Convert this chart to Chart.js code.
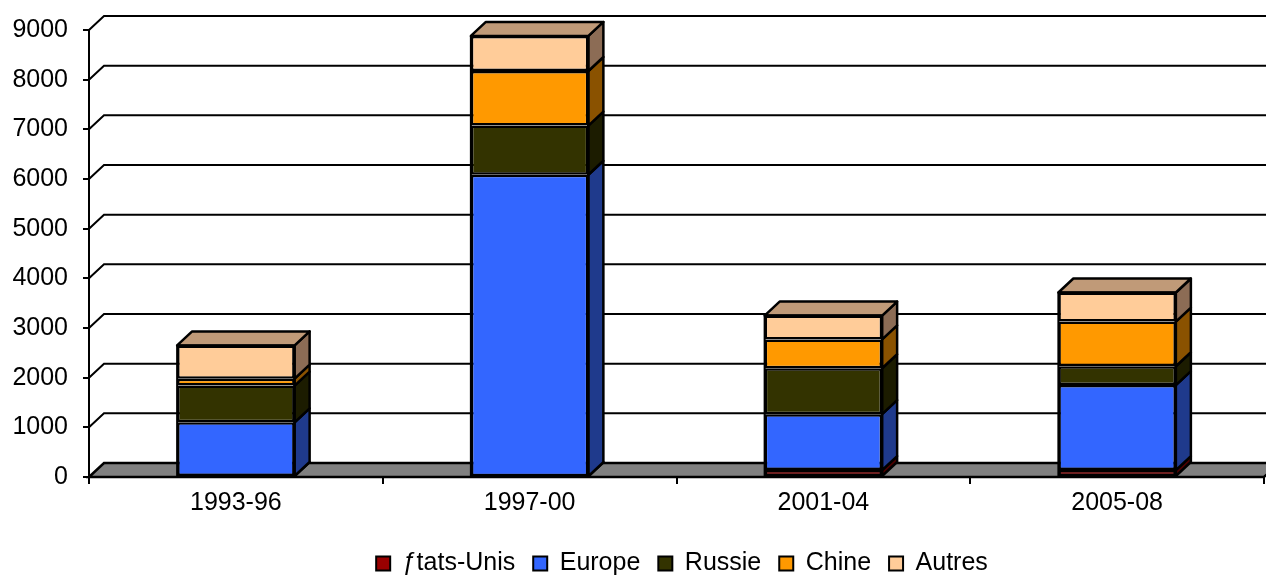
<!DOCTYPE html>
<html>
<head>
<meta charset="utf-8">
<script src="https://cdn.jsdelivr.net/npm/chart.js@4"></script>
<style>
  html, body { margin: 0; padding: 0; background: #fff; }
  #wrap { width: 1266px; height: 575px; }
</style>
</head>
<body>
<div id="wrap"><canvas id="chart"></canvas></div>
<script>
const categories = ['1993-96', '1997-00', '2001-04', '2005-08'];
const seriesNames = ['ƒtats-Unis', 'Europe', 'Russie', 'Chine', 'Autres'];
const etatsUnis = [20, 15, 140, 140];
const europe = [1080, 6070, 1125, 1710];
const russie = [740, 990, 925, 380];
const chine = [140, 1100, 580, 900];
const autres = [670, 705, 480, 585];
const yTicks = [0, 1000, 2000, 3000, 4000, 5000, 6000, 7000, 8000, 9000];

const frontColors = ['#990000', '#3366FF', '#333300', '#FF9900', '#FFCC99'];
const sideColors = ['#4d0000', '#1f3a8c', '#1c1c00', '#8a5200', '#8c6c55'];
const topColors = ['#b34d4d', '#6688ff', '#666633', '#c08030', '#c09a78'];

// 3D depth offset
const DX = 15, DY = -14;
const FONT = 'Liberation Sans, Arial, sans-serif';

const threeD = {
  id: 'threeD',
  afterLayout(chart) {
    // nudge the legend a bit right and down, like the original
    const lg = chart.legend;
    lg.left += 50; lg.right += 50;
    lg.top += 11; lg.bottom += 11;
  },
  beforeDatasetsDraw(chart) {
    const { ctx, chartArea: a, scales: { y } } = chart;
    ctx.save();
    ctx.strokeStyle = '#000';
    ctx.lineWidth = 2;
    yTicks.forEach(v => {
      if (v === 0) return;
      const py = y.getPixelForValue(v);
      ctx.beginPath();
      ctx.moveTo(a.left, py);
      ctx.lineTo(a.left + DX, py + DY);
      ctx.lineTo(chart.width, py + DY);
      ctx.stroke();
    });
    const y0 = y.getPixelForValue(0);
    ctx.fillStyle = '#808080';
    ctx.lineWidth = 2.5;
    ctx.beginPath();
    ctx.moveTo(a.left, y0);
    ctx.lineTo(a.left + DX, y0 + DY);
    ctx.lineTo(a.right + DX, y0 + DY);
    ctx.lineTo(a.right, y0);
    ctx.closePath();
    ctx.fill();
    ctx.stroke();
    ctx.restore();
  },
  afterDatasetsDraw(chart) {
    const { ctx } = chart;
    ctx.save();
    ctx.strokeStyle = '#000';
    ctx.lineJoin = 'round';
    const n = chart.data.labels.length;
    for (let i = 0; i < n; i++) {
      let topBar = null, topIdx = -1, baseY = null;
      chart.data.datasets.forEach((ds, d) => {
        const bar = chart.getDatasetMeta(d).data[i];
        const p = bar.getProps(['x', 'y', 'base', 'width'], true);
        if (baseY === null) baseY = p.base;
        const r = p.x + p.width / 2;
        ctx.fillStyle = sideColors[d];
        ctx.lineWidth = 2.5;
        ctx.beginPath();
        ctx.moveTo(r, p.y);
        ctx.lineTo(r + DX, p.y + DY);
        ctx.lineTo(r + DX, p.base + DY);
        ctx.lineTo(r, p.base);
        ctx.closePath();
        ctx.fill();
        ctx.stroke();
        if (ds.data[i] > 0) { topBar = p; topIdx = d; }
      });
      if (topBar) {
        const l = topBar.x - topBar.width / 2, r = topBar.x + topBar.width / 2;
        ctx.fillStyle = topColors[topIdx];
        ctx.lineWidth = 2.5;
        ctx.beginPath();
        ctx.moveTo(l, topBar.y);
        ctx.lineTo(l + DX, topBar.y + DY);
        ctx.lineTo(r + DX, topBar.y + DY);
        ctx.lineTo(r, topBar.y);
        ctx.closePath();
        ctx.fill();
        ctx.stroke();
        // heavier outline round the whole front of the stack
        ctx.lineWidth = 2;
        ctx.strokeRect(l, topBar.y, r - l, baseY - topBar.y);
      }
    }
    ctx.restore();
  }
};

const seriesData = [etatsUnis, europe, russie, chine, autres];

new Chart(document.getElementById('chart'), {
  type: 'bar',
  data: {
    labels: categories,
    datasets: seriesNames.map((name, d) => ({
      label: name,
      data: seriesData[d],
      backgroundColor: frontColors[d],
      borderColor: '#000',
      borderWidth: 2.5,
      borderSkipped: false
    }))
  },
  options: {
    responsive: true,
    maintainAspectRatio: false,
    animation: false,
    layout: { padding: { top: 27, right: 2, left: 0, bottom: 0 } },
    datasets: { bar: { barPercentage: 0.4, categoryPercentage: 1 } },
    scales: {
      x: {
        stacked: true,
        grid: { drawOnChartArea: false, color: '#000', lineWidth: 2, tickLength: 7 },
        border: { color: '#000', width: 2 },
        ticks: { color: '#000', font: { family: FONT, size: 25 }, padding: 4 },
        afterFit(s) { s.height = 45; }
      },
      y: {
        stacked: true,
        min: 0,
        max: 9000,
        grid: { drawOnChartArea: false, color: '#000', lineWidth: 2, tickLength: 6 },
        border: { color: '#000', width: 2 },
        ticks: {
          stepSize: 1000,
          color: '#000',
          font: { family: FONT, size: 25 },
          padding: 15,
          callback: v => String(v)
        },
        afterFit(s) { s.width = 89; }
      }
    },
    plugins: {
      tooltip: { enabled: false },
      legend: {
        position: 'bottom',
        labels: {
          color: '#000',
          font: { family: FONT, size: 25 },
          boxWidth: 14,
          boxHeight: 14,
          padding: 18,
          generateLabels(chart) {
            return chart.data.datasets.map((ds, i) => ({
              text: ds.label,
              fillStyle: frontColors[i],
              strokeStyle: '#000',
              lineWidth: 2,
              datasetIndex: i,
              fontColor: '#000'
            }));
          }
        }
      }
    }
  },
  plugins: [threeD]
});
</script>
</body>
</html>
